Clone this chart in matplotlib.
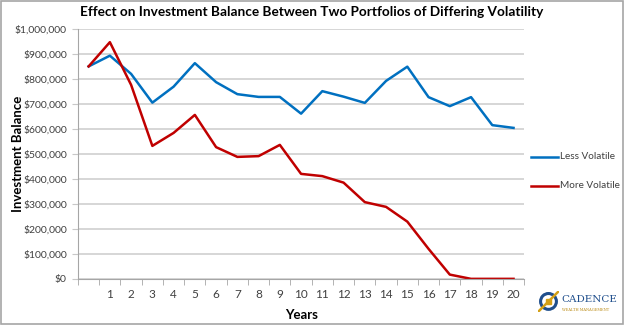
import matplotlib.pyplot as plt
import numpy as np
from matplotlib.patches import Circle, Rectangle
from matplotlib.ticker import FuncFormatter

years = list(range(21))
year_labels = [''] + [str(y) for y in range(1, 21)]
less_volatile = [850000, 893000, 820000, 705000, 769000, 863000, 787000, 739000, 728000, 728000,
                 661000, 751000, 729000, 704000, 792000, 849000, 727000, 691000, 727000, 615000, 604000]
more_volatile = [850000, 947000, 776000, 532000, 584000, 656000, 527000, 488000, 491000, 536000,
                 420000, 411000, 385000, 307000, 288000, 229000, 120000, 17000, 0, 0, 0]

plt.rcParams['font.family'] = ['Lato', 'DejaVu Sans']

fig = plt.figure(figsize=(6.24, 3.25), dpi=100)
ax = fig.add_axes([0.125, 0.142, 0.715, 0.769])

ax.plot(years, less_volatile, color='#0070c0', lw=1.8, label='Less Volatile')
ax.plot(years, more_volatile, color='#c00000', lw=1.8, label='More Volatile')

ax.set_xlim(-0.5, 20.5)
ax.set_ylim(0, 1000000)
ax.set_yticks(np.arange(0, 1000001, 100000))
ax.yaxis.set_major_formatter(FuncFormatter(lambda v, p: '${:,.0f}'.format(v)))
ax.set_xticks(years)
ax.set_xticklabels(year_labels)
ax.set_xticks(np.arange(-0.5, 21, 1), minor=True)
ax.tick_params(axis='x', which='major', length=0, pad=7, labelsize=8.5, labelcolor='#404040')
ax.tick_params(axis='x', which='minor', length=4, color='#a6a6a6')
ax.tick_params(axis='y', length=4, color='#c8c8c8', labelsize=7.5, labelcolor='#404040', pad=4)

ax.grid(axis='y', color='#d0d0d0', lw=1.2)
ax.set_axisbelow(True)
for s in ['top', 'right']:
    ax.spines[s].set_visible(False)
ax.spines['left'].set_color('#a6a6a6')
ax.spines['bottom'].set_color('#a6a6a6')

fig.text(0.5, 0.962, 'Effect on Investment Balance Between Two Portfolios of Differing Volatility',
         fontsize=9.8, fontweight='bold', ha='center', va='center')
ax.set_ylabel('Investment Balance', fontsize=9.5, fontweight='bold')
ax.yaxis.set_label_coords(-0.122, 0.5)
ax.set_xlabel('Years', fontsize=9.5, fontweight='bold', labelpad=7)

# legend drawn by hand at the right
fig.lines.append(plt.Line2D([0.851, 0.894], [0.517, 0.517], color='#0070c0', lw=1.8, transform=fig.transFigure))
fig.lines.append(plt.Line2D([0.851, 0.894], [0.428, 0.428], color='#c00000', lw=1.8, transform=fig.transFigure))
fig.text(0.897, 0.517, 'Less Volatile', fontsize=7.2, va='center', color='#404040')
fig.text(0.897, 0.428, 'More Volatile', fontsize=7.2, va='center', color='#404040')

# logo
lax = fig.add_axes([0.862, 0.04, 0.034, 0.065])
lax.set_xlim(-1, 1)
lax.set_ylim(-1, 1)
lax.set_aspect('equal')
lax.axis('off')
lax.add_patch(Circle((0, 0), 0.75, fill=False, ec='#1f4e8c', lw=2.2))
lax.plot([-0.95, 0.95], [-0.95, 0.95], color='#d4a017', lw=1.8)
lax.add_patch(Rectangle((-0.22, -0.22), 0.44, 0.44, color='#d4a017'))
fig.text(0.899, 0.08, 'CADENCE', fontsize=7.5, family='DejaVu Serif', color='#1f4e8c', va='center')
fig.text(0.901, 0.047, 'WEALTH MANAGEMENT', fontsize=2.6, family='DejaVu Serif', color='#b8860b', va='center')

# outer frame
fig.patches.append(Rectangle((0.002, 0.003), 0.996, 0.994, fill=False, ec='#a6a6a6', lw=1.2,
                             transform=fig.transFigure))

fig.savefig('out.png', dpi=100)
